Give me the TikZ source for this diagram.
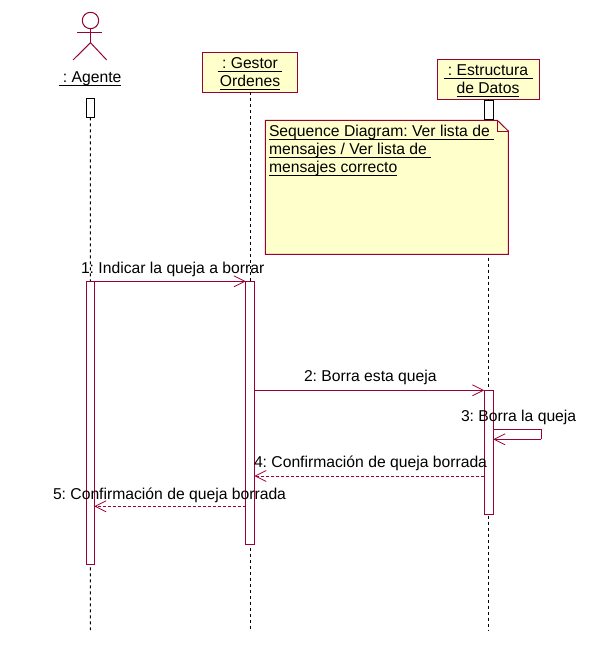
\documentclass[tikz,border=0pt]{standalone}
\usepackage{fontspec}
\setmainfont{Liberation Sans}
\usetikzlibrary{arrows.meta}
\definecolor{umlred}{HTML}{990033}
\definecolor{umlfill}{HTML}{FFFFCC}
\frenchspacing
\newcommand{\ulbox}[1]{\setbox0=\hbox{#1}\rlap{\rule[-3.2pt]{\wd0}{0.9pt}}\box0}
\tikzset{
  every node/.style={font=\fontsize{15.7}{18}\selectfont, inner sep=0pt, outer sep=0pt},
  objbox/.style={draw=umlred, fill=umlfill, line width=1pt, anchor=north west, align=center},
  startbar/.style={draw=black, fill=white, line width=1pt, anchor=north west},
  actbar/.style={draw=umlred, fill=white, line width=1pt, anchor=north west},
  lifeline/.style={draw=black, line width=1pt, dash pattern=on 3pt off 3pt},
  umlline/.style={draw=umlred, line width=1pt},
  msg/.style={umlline, -{Straight Barb[length=11pt,width=11pt,line width=0.8pt]}},
  retmsg/.style={msg, dash pattern=on 3pt off 2pt},
  msglabel/.style={anchor=base west, text=black},
}
\begin{document}
\begin{tikzpicture}[x=1pt,y=-1pt]
\useasboundingbox (0,0) rectangle (605,660);
% actor
\node[draw=umlred, line width=1pt, circle, minimum size=16.4pt] (head) at (90.5,20.5) {};
\coordinate (hip) at (90.5,42.7);
\coordinate (armL) at (77,32.3);
\coordinate (armR) at (102,32.3);
\coordinate (legL) at (73,60);
\coordinate (legR) at (106.7,60);
\draw[umlline] (head.south) -- (hip);
\draw[umlline] (armL) -- (armR);
\draw[umlline] (legL) -- (hip) -- (legR);
\node[anchor=base] (agente) at (90,83) {\ulbox{\ : Agente}};
% objects
\node[objbox, minimum width=95.4pt, minimum height=40pt] (gestor) at (202.3,52.3) {};
\node[anchor=base] (gestor1) at (250,69) {\ulbox{\ : Gestor\ }};
\node[anchor=base] (gestor2) at (250,87) {\ulbox{Ordenes}};
\node[objbox, minimum width=102pt, minimum height=40pt] (estr) at (437.3,59.3) {};
\node[anchor=base] (estr1) at (488,76) {\ulbox{\ : Estructura\ }};
\node[anchor=base] (estr2) at (488,94) {\ulbox{de Datos}};
% start bars
\node[startbar, minimum width=8pt, minimum height=19pt] (s1) at (86.3,98.3) {};
\node[startbar, minimum width=9pt, minimum height=18.7pt] (s3) at (484.3,101) {};
% lifeline ends
\coordinate (e1) at (90.4,630);
\coordinate (e2) at (250.3,630);
\coordinate (e3) at (488.5,630);
\draw[lifeline] (s1.south) -- (e1);
\draw[lifeline] (gestor.south -| e2) -- (e2);
\draw[lifeline] (estr.south -| e3) -- (s3.north -| e3);
\draw[lifeline] (s3.south -| e3) -- (e3);
% note
\coordinate (nA) at (265.3,120.3);
\coordinate (nB) at (497.3,120.3);
\coordinate (nC) at (508.3,131);
\coordinate (nD) at (508.3,254.3);
\coordinate (nE) at (265.3,254.3);
\coordinate (nF) at (497.3,131);
\draw[draw=umlred, fill=umlfill, line width=1pt] (nA) -- (nB) -- (nC) -- (nD) -- (nE) -- cycle;
\draw[draw=umlred, line width=0.8pt] (nB) -- (nF) -- (nC);
\node[anchor=base west] (n1) at (269,136.5) {\ulbox{Sequence Diagram: Ver lista de\ }};
\node[anchor=base west] (n2) at (269,154.5) {\ulbox{mensajes / Ver lista de\ }};
\node[anchor=base west] (n3) at (269,172.5) {\ulbox{mensajes correcto}};
% activations
\node[actbar, minimum width=8pt, minimum height=283pt] (a1) at (86.3,281.3) {};
\node[actbar, minimum width=8.6pt, minimum height=263.4pt] (a2) at (245.7,281.3) {};
\node[actbar, minimum width=9pt, minimum height=124pt] (a3) at (484.3,390.3) {};
% messages
\coordinate (y4) at (0,476);
\coordinate (y5) at (0,506.3);
\coordinate (s1y) at (0,429.3);
\coordinate (s2y) at (0,439.3);
\coordinate (sx) at (541.3,0);
\draw[msg] (a1.north east) -- (a2.north west);
\draw[msg] (a2.east |- a3.north) -- (a3.north west);
\draw[umlline] (a3.east |- s1y) -- (sx |- s1y) -- (sx |- s2y);
\draw[msg] (sx |- s2y) -- (a3.east |- s2y);
\draw[retmsg] (a3.west |- y4) -- (a2.east |- y4);
\draw[retmsg] (a2.west |- y5) -- (a1.east |- y5);
% labels
\node[msglabel] (l1) at (81,273) {1: Indicar la queja a borrar};
\node[msglabel] (l2) at (304,381) {2: Borra esta queja};
\node[msglabel] (l3) at (461,421) {3: Borra la queja};
\node[msglabel] (l4) at (254,467.5) {4: Confirmación de queja borrada};
\node[msglabel] (l5) at (53,499) {5: Confirmación de queja borrada};
\end{tikzpicture}
\end{document}
